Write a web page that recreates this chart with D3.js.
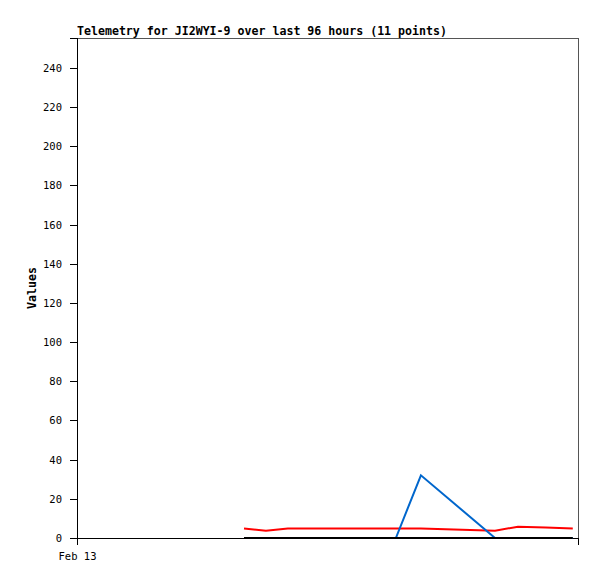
<!DOCTYPE html>
<html><head><meta charset="utf-8">
<script src="https://cdn.jsdelivr.net/npm/d3@7"></script>
<style>body{margin:0;background:#fff}</style>
</head><body>
<script>
const title = "Telemetry for JI2WYI-9 over last 96 hours (11 points)";
const yLabel = "Values";
const xTickLabels = ["Feb 13"];
const hours = [32, 36.2, 40.4, 48.5, 55, 61.1, 65.9, 80.1, 84.5, 89.8, 95.0];
const seriesRed = [4.8, 3.7, 4.8, 4.8, 4.8, 4.8, 4.8, 3.7, 5.8, 5.3, 4.8];
const seriesBlue = [0, 0, 0, 0, 0, 0, 32, 0, 0, 0, 0];
const seriesBlack = [0, 0, 0, 0, 0, 0, 0, 0, 0, 0, 0];
const yTicks = [0, 20, 40, 60, 80, 100, 120, 140, 160, 180, 200, 220, 240];

const W = 597, H = 579;
const m = {l: 77, t: 38, r: 19, b: 41};
const svg = d3.select("body").append("svg").attr("width", W).attr("height", H);
const x = d3.scaleLinear().domain([0, 96]).range([m.l, W - m.r]);
const y = d3.scaleLinear().domain([0, 255.3]).range([H - m.b, m.t]);
const mono = "'DejaVu Sans Mono', 'Liberation Mono', monospace";

// frame
svg.append("rect").attr("x", m.l).attr("y", m.t).attr("width", x(96) - m.l).attr("height", y(0) - m.t)
  .attr("fill", "none").attr("stroke", "#555").attr("stroke-width", 1).attr("shape-rendering", "crispEdges");

const yAxis = d3.axisLeft(y).tickValues(yTicks).tickSize(7).tickPadding(8);
const gy = svg.append("g").attr("transform", `translate(${m.l},0)`).call(yAxis);
gy.select(".domain").attr("stroke", "#000").attr("shape-rendering", "crispEdges");
gy.selectAll("line").attr("stroke", "#000").attr("shape-rendering", "crispEdges");
gy.selectAll("text").attr("font-family", mono).attr("font-size", "10.5px").attr("fill", "#000");

const xAxis = d3.axisBottom(x).tickValues([0]).tickFormat((d, i) => xTickLabels[i]).tickSize(7).tickPadding(8);
const gx = svg.append("g").attr("transform", `translate(0,${y(0)})`).call(xAxis);
gx.select(".domain").attr("stroke", "#000").attr("shape-rendering", "crispEdges");
gx.selectAll("line").attr("stroke", "#000").attr("shape-rendering", "crispEdges");
gx.selectAll("text").attr("font-family", mono).attr("font-size", "10.5px").attr("fill", "#000");

const line = d3.line().x((d, i) => x(hours[i])).y(d => y(d));
[[seriesRed, "#ff0000"], [seriesBlue, "#0066cc"], [seriesBlack, "#000000"]].forEach(([s, c]) => {
  svg.append("path").attr("d", line(s)).attr("fill", "none").attr("stroke", c).attr("stroke-width", 2);
});

svg.append("text").attr("x", m.l).attr("y", 35).text(title)
  .attr("font-family", mono).attr("font-weight", "bold").attr("font-size", "11.6px").attr("fill", "#000");
svg.append("text").attr("transform", `translate(36,${(m.t + y(0)) / 2}) rotate(-90)`)
  .attr("text-anchor", "middle").text(yLabel)
  .attr("font-family", mono).attr("font-weight", "bold").attr("font-size", "11.6px").attr("fill", "#000");
</script>
</body></html>
